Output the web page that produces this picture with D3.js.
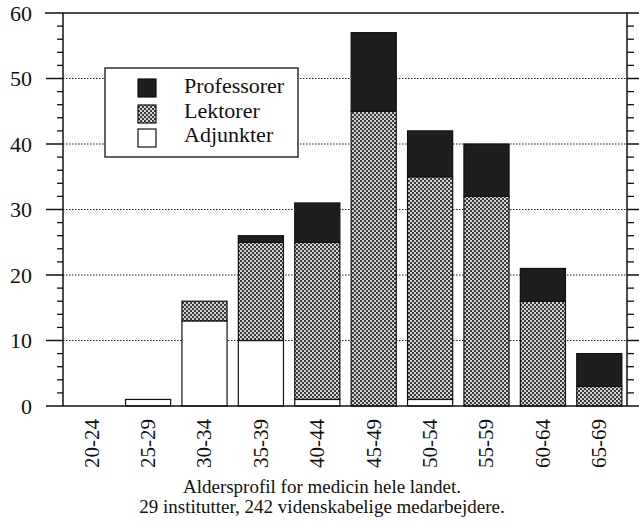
<!DOCTYPE html>
<html>
<head>
<meta charset="utf-8">
<script src="https://cdn.jsdelivr.net/npm/d3@7"></script>
<style>
  html, body { margin: 0; padding: 0; background: #fff; }
  svg { display: block; }
  text { font-family: "Liberation Serif", "Times New Roman", serif; fill: #111; }
</style>
</head>
<body>
<svg id="chart" width="639" height="522"></svg>
<script>
const categories = ["20-24","25-29","30-34","35-39","40-44","45-49","50-54","55-59","60-64","65-69"];
const adjunkter   = [0, 1, 13, 10, 1, 0, 1, 0, 0, 0];
const lektorer    = [0, 0, 3, 15, 24, 45, 34, 32, 16, 3];
const professorer = [0, 0, 0, 1, 6, 12, 7, 8, 5, 5];
const seriesNames = ["Adjunkter", "Lektorer", "Professorer"];
const legendOrder = ["Professorer", "Lektorer", "Adjunkter"];
const yTicks = [0, 10, 20, 30, 40, 50, 60];
const captionLines = ["Aldersprofil for medicin hele landet.", "29 institutter, 242 videnskabelige medarbejdere."];

const svg = d3.select("#chart");
const pLeft = 63, pRight = 627, pTop = 13, pBottom = 406;

const defs = svg.append("defs");
const pat = defs.append("pattern").attr("id", "checker").attr("patternUnits", "userSpaceOnUse")
  .attr("width", 4).attr("height", 4);
pat.append("rect").attr("width", 4).attr("height", 4).attr("fill", "#d4d4d4");
pat.append("rect").attr("x", 0).attr("y", 0).attr("width", 2).attr("height", 2).attr("fill", "#3a3a3a");
pat.append("rect").attr("x", 2).attr("y", 2).attr("width", 2).attr("height", 2).attr("fill", "#3a3a3a");

const fills = { "Adjunkter": "#ffffff", "Lektorer": "url(#checker)", "Professorer": "#1e1e1e" };

const x = d3.scaleBand().domain(categories).range([pLeft, pRight]).paddingInner(0.2).paddingOuter(0.1);
const y = d3.scaleLinear().domain([0, 60]).range([pBottom, pTop]);

// gridlines
svg.append("g").selectAll("line").data(yTicks.filter(t => t > 0 && t < 60)).join("line")
  .attr("x1", pLeft).attr("x2", pRight)
  .attr("y1", d => y(d)).attr("y2", d => y(d))
  .attr("stroke", "#222").attr("stroke-width", 1.2).attr("stroke-dasharray", "1.5,1.5");

// data table
const table = categories.map((c, i) => ({ cat: c, Adjunkter: adjunkter[i], Lektorer: lektorer[i], Professorer: professorer[i] }));
const stacked = d3.stack().keys(seriesNames)(table);

const gBars = svg.append("g");
stacked.forEach(s => {
  gBars.append("g").selectAll("rect").data(s.filter(d => d[1] - d[0] > 0)).join("rect")
    .attr("x", d => x(d.data.cat) + 0.5)
    .attr("width", x.bandwidth())
    .attr("y", d => y(d[1]))
    .attr("height", d => y(d[0]) - y(d[1]))
    .attr("fill", fills[s.key])
    .attr("stroke", "#111").attr("stroke-width", 1.2);
});

// axes
const axG = svg.append("g").attr("stroke", "#111");
axG.append("line").attr("x1", pLeft).attr("x2", pLeft).attr("y1", pTop).attr("y2", pBottom).attr("stroke-width", 1.5);
axG.append("line").attr("x1", pRight).attr("x2", pRight).attr("y1", pTop).attr("y2", pBottom).attr("stroke-width", 1.5);
axG.append("line").attr("x1", 45).attr("x2", 639).attr("y1", y(60)).attr("y2", y(60)).attr("stroke-width", 1.5);
axG.append("line").attr("x1", 46).attr("x2", 639).attr("y1", y(0)).attr("y2", y(0)).attr("stroke-width", 1.5);

const minor = d3.range(0, 61, 2).filter(v => v % 10 !== 0);
axG.selectAll(".minL").data(minor).join("line").attr("class", "minL")
  .attr("x1", 57).attr("x2", pLeft).attr("y1", d => y(d)).attr("y2", d => y(d)).attr("stroke-width", 1.3);
axG.selectAll(".minR").data(minor).join("line").attr("class", "minR")
  .attr("x1", pRight).attr("x2", 634).attr("y1", d => y(d)).attr("y2", d => y(d)).attr("stroke-width", 1.3);
axG.selectAll(".majL").data(yTicks.filter(t => t > 0 && t < 60)).join("line").attr("class", "majL")
  .attr("x1", 46).attr("x2", pLeft).attr("y1", d => y(d)).attr("y2", d => y(d)).attr("stroke-width", 1.5);
axG.selectAll(".majR").data(yTicks.filter(t => t > 0 && t < 60)).join("line").attr("class", "majR")
  .attr("x1", pRight).attr("x2", 639).attr("y1", d => y(d)).attr("y2", d => y(d)).attr("stroke-width", 1.5);

svg.append("g").selectAll("text").data(yTicks).join("text")
  .attr("x", 32).attr("y", d => y(d)).attr("dy", "0.35em")
  .attr("text-anchor", "end").attr("font-size", 22).text(d => d);

// x labels
svg.append("g").selectAll("text").data(categories).join("text")
  .attr("transform", d => `translate(${x(d) + x.bandwidth() / 2},419) rotate(-90)`)
  .attr("dy", "0.35em").attr("text-anchor", "end").attr("font-size", 21).text(d => d);

// legend
const lg = svg.append("g");
lg.append("rect").attr("x", 105).attr("y", 68).attr("width", 193).attr("height", 89)
  .attr("fill", "#fff").attr("stroke", "#111").attr("stroke-width", 1.3);
const swY = [79, 105, 129], txY = [93, 118, 142];
legendOrder.forEach((k, i) => {
  lg.append("rect").attr("x", 138).attr("y", swY[i]).attr("width", 18).attr("height", 18)
    .attr("fill", fills[k]).attr("stroke", "#111").attr("stroke-width", 1.2);
  lg.append("text").attr("x", 184).attr("y", txY[i]).attr("font-size", 22).text(k);
});

// caption
svg.append("g").selectAll("text").data(captionLines).join("text")
  .attr("x", 322).attr("y", (d, i) => 493 + i * 20)
  .attr("text-anchor", "middle").attr("font-size", 19).text(d => d);
</script>
</body>
</html>
